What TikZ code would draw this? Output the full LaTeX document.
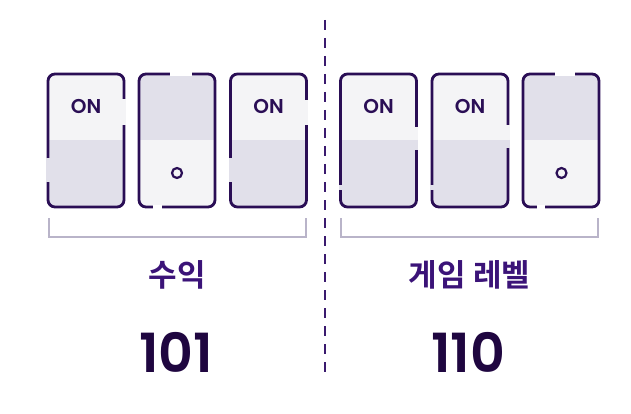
\documentclass[tikz,border=0pt]{standalone}
\usepackage{fontspec}
\newfontfamily\krfont{Noto Sans CJK KR Bold}
\newfontfamily\numfont{Poppins SemiBold}
\usetikzlibrary{positioning}

\definecolor{swline}{HTML}{2A0E55}
\definecolor{swlight}{HTML}{F4F4F6}
\definecolor{swdark}{HTML}{E1E0EA}
\definecolor{brkcol}{HTML}{B9B4C9}
\definecolor{labcol}{HTML}{3B1378}
\definecolor{numcol}{HTML}{1F0640}
\definecolor{divcol}{HTML}{3A1A6E}

\tikzset{
  sw/.style={draw=swline,line width=2.8pt,rounded corners=7pt,fill=swdark,
    minimum width=76pt,minimum height=133pt,inner sep=0pt},
  swon/.style={sw,path picture={\fill[swlight,sharp corners] (path picture bounding box.north west) rectangle (path picture bounding box.east);}},
  swoff/.style={sw,path picture={\fill[swlight,sharp corners] (path picture bounding box.south west) rectangle (path picture bounding box.east);}},
  swgap/.style={line width=3.3pt},
  ontext/.style={text=swline,font=\numfont\fontsize{20}{20}\selectfont},
  offdot/.style={circle,draw=swline,line width=2.2pt,minimum size=10pt,inner sep=0pt},
  bracket/.style={draw=brkcol,line width=2pt},
  klabel/.style={text=labcol,font=\krfont\fontsize{31}{31}\selectfont},
  nlabel/.style={text=numcol,font=\numfont\fontsize{54}{54}\selectfont},
}

\begin{document}
\begin{tikzpicture}[x=1pt,y=-1pt]
  \useasboundingbox (0,0) rectangle (631,414);
  % divider
  \draw[divcol,line width=2pt,dash pattern=on 10pt off 8pt] (325,20) -- (325,372);
  % switches
  \node[swon]  (s1) at (86,140.5) {};
  \node[swoff] (s2) at (177,140.5) {};
  \node[swon]  (s3) at (268.5,140.5) {};
  \node[swon]  (s4) at (378.5,140.5) {};
  \node[swon]  (s5) at (470,140.5) {};
  \node[swoff] (s6) at (561,140.5) {};
  % breaks in the outlines
  \draw[swgap,swlight] (124,99) -- (124,125);
  \draw[swgap,swdark] (48,158) -- (48,182);
  \draw[swgap,white] (170,74) -- (192,74);
  \draw[swgap,white] (153,207) -- (162,207);
  \draw[swgap,swlight] (306.5,100) -- (306.5,125);
  \draw[swgap,swdark] (230.5,158) -- (230.5,182);
  \draw[swgap,swdark] (340.5,185) -- (340.5,190);
  \draw[swgap,swlight] (416.5,127) -- (416.5,140);
  \draw[swgap,swdark] (416.5,140) -- (416.5,150);
  \draw[swgap,swdark] (432,185) -- (432,190);
  \draw[swgap,swlight] (508,125) -- (508,140);
  \draw[swgap,swdark] (508,140) -- (508,148);
  \draw[swgap,white] (555,74) -- (575,74);
  \draw[swgap,white] (537,207) -- (545,207);
  % switch marks
  \node[ontext] (on1) at (86,106.5) {ON};
  \node[ontext] (on3) at (268.5,106.5) {ON};
  \node[ontext] (on4) at (378.5,106.5) {ON};
  \node[ontext] (on5) at (470,106.5) {ON};
  \node[offdot] (off2) at (177,173) {};
  \node[offdot] (off6) at (561.5,173) {};
  % brackets
  \draw[bracket] (49,218) |- (306,237) -- (306,218);
  \draw[bracket] (341,218) |- (598,237) -- (598,218);
  % labels
  \node[klabel] (rev) at (177.5,275) {수익};
  \node[klabel] (lvl) at (469.5,275) {게임 레벨};
  \node[nlabel] (revbits) at (176,352.5) {101};
  \node[nlabel] (lvlbits) at (468,352.5) {110};
\end{tikzpicture}
\end{document}
